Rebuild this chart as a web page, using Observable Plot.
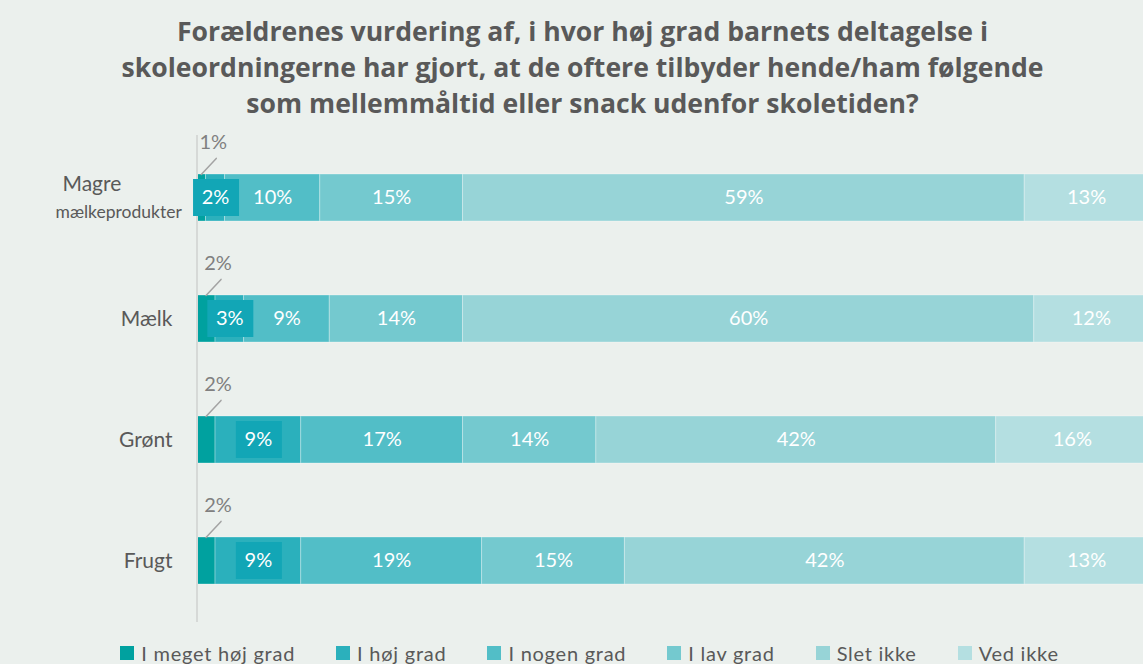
<!DOCTYPE html>
<html><head><meta charset="utf-8">
<script src="https://cdn.jsdelivr.net/npm/d3@7"></script>
<script src="https://cdn.jsdelivr.net/npm/@observablehq/plot@0.6"></script>
<style>
html,body{margin:0;padding:0;background:#ebf0ed;overflow:hidden}
body{width:1143px;height:664px;position:relative;font-family:Lato,"Open Sans",sans-serif}
#title{position:absolute;top:13px;left:0;width:1143px;padding-left:22px;box-sizing:border-box;text-align:center;font-family:"Open Sans",sans-serif;font-weight:700;font-size:26.6px;line-height:36px;color:#595959;white-space:nowrap}
#chart{position:absolute;top:130px;left:0}
#legend{position:absolute;top:641px;left:0;width:1143px;padding-left:36px;box-sizing:border-box;display:flex;justify-content:center;gap:41px;font-size:20px;color:#595959;letter-spacing:0.75px;white-space:nowrap}
#legend .item{display:flex;align-items:center;gap:7px}
#legend .sw{display:inline-block;width:14px;height:14px}
</style></head>
<body>
<div id="title"></div>
<div id="chart"></div>
<div id="legend"></div>
<script>
const titleLines = ["Forældrenes vurdering af, i hvor høj grad barnets deltagelse i",
  "skoleordningerne har gjort, at de oftere tilbyder hende/ham følgende",
  "som mellemmåltid eller snack udenfor skoletiden?"];
const categories = ["Magre mælkeprodukter", "Mælk", "Grønt", "Frugt"];
const categoryLine1 = ["Magre", "Mælk", "Grønt", "Frugt"];
const categoryLine2 = ["mælkeprodukter", "", "", ""];
const series = ["I meget høj grad", "I høj grad", "I nogen grad", "I lav grad", "Slet ikke", "Ved ikke"];
const megetHoejGrad = [1, 2, 2, 2];
const hoejGrad = [2, 3, 9, 9];
const nogenGrad = [10, 9, 17, 19];
const lavGrad = [15, 14, 14, 15];
const sletIkke = [59, 60, 42, 42];
const vedIkke = [13, 12, 16, 13];
const colors = ["#00a19f", "#2bb0bc", "#52bec7", "#74c9cf", "#97d4d7", "#b4dfe1"];

document.getElementById("title").innerHTML = titleLines.join("<br>");

const values = [megetHoejGrad, hoejGrad, nogenGrad, lavGrad, sletIkke, vedIkke];
const rows = [];
categories.forEach((c, ci) => {
  let acc = 0;
  values.forEach((arr, si) => {
    const v = arr[ci];
    rows.push({cat: c, series: series[si], si, value: v, x1: acc, x2: acc + v, mid: acc + v / 2});
    acc += v;
  });
});
const cats = categories.map((c, i) => ({cat: c, l1: categoryLine1[i], l2: categoryLine2[i]}));
const line = {draw(ctx, l) { ctx.moveTo(0, 0); ctx.lineTo(0, -l); }};

const chart = Plot.plot({
  width: 1143,
  height: 505,
  marginLeft: 196,
  marginRight: -5,
  marginTop: 5,
  marginBottom: 13,
  style: {background: "transparent", fontFamily: "Lato, 'Open Sans', sans-serif", fontSize: "18px", overflow: "hidden"},
  x: {domain: [0, 100], axis: null},
  y: {domain: categories, paddingInner: 0.614, paddingOuter: 0.308, axis: null},
  color: {domain: series, range: colors},
  marks: [
    Plot.barX(rows, {x1: "x1", x2: "x2", y: "cat", fill: "series", stroke: "#ffffff", strokeOpacity: 0.3, strokeWidth: 1}),
    Plot.ruleX([0], {stroke: "#d6d9d7", strokeWidth: 2, dx: 0.5}),
    Plot.barX(rows.filter(d => d.si === 1), {x1: "mid", x2: "mid", y: "cat", fill: "#12a6b6", insetLeft: -22, insetRight: -24, insetTop: 5, insetBottom: 5}),
    Plot.text(rows.filter(d => d.si >= 1), {x: "mid", y: "cat", text: d => d.value + "%", fill: "white", fontSize: 20}),
    Plot.vector(rows.filter(d => d.si === 0), {x: "mid", y: "cat", length: 22, rotate: 43, anchor: "start", shape: line, dy: -23.5, stroke: "#a3a3a3", strokeWidth: 1.5}),
    Plot.text(rows.filter(d => d.si === 0), {x: "mid", y: "cat", text: d => d.value + "%", fill: "#808080", fontSize: 20, dx: 12, dy: -55}),
    Plot.text(cats.filter(d => !d.l2), {y: "cat", text: "l1", frameAnchor: "left", textAnchor: "end", dx: -24, fill: "#595959", fontSize: 21}),
    Plot.text(cats.filter(d => d.l2), {y: "cat", text: "l1", frameAnchor: "left", textAnchor: "start", dx: -134, dy: -14, fill: "#595959", fontSize: 21}),
    Plot.text(cats.filter(d => d.l2), {y: "cat", text: "l2", frameAnchor: "left", textAnchor: "start", dx: -141, dy: 14, fill: "#595959", fontSize: 17.5})
  ]
});
document.getElementById("chart").appendChild(chart);

const legend = document.getElementById("legend");
series.forEach((s, i) => {
  const item = document.createElement("div");
  item.className = "item";
  item.innerHTML = `<span class="sw" style="background:${colors[i]}"></span><span>${s}</span>`;
  legend.appendChild(item);
});
</script>
</body></html>
